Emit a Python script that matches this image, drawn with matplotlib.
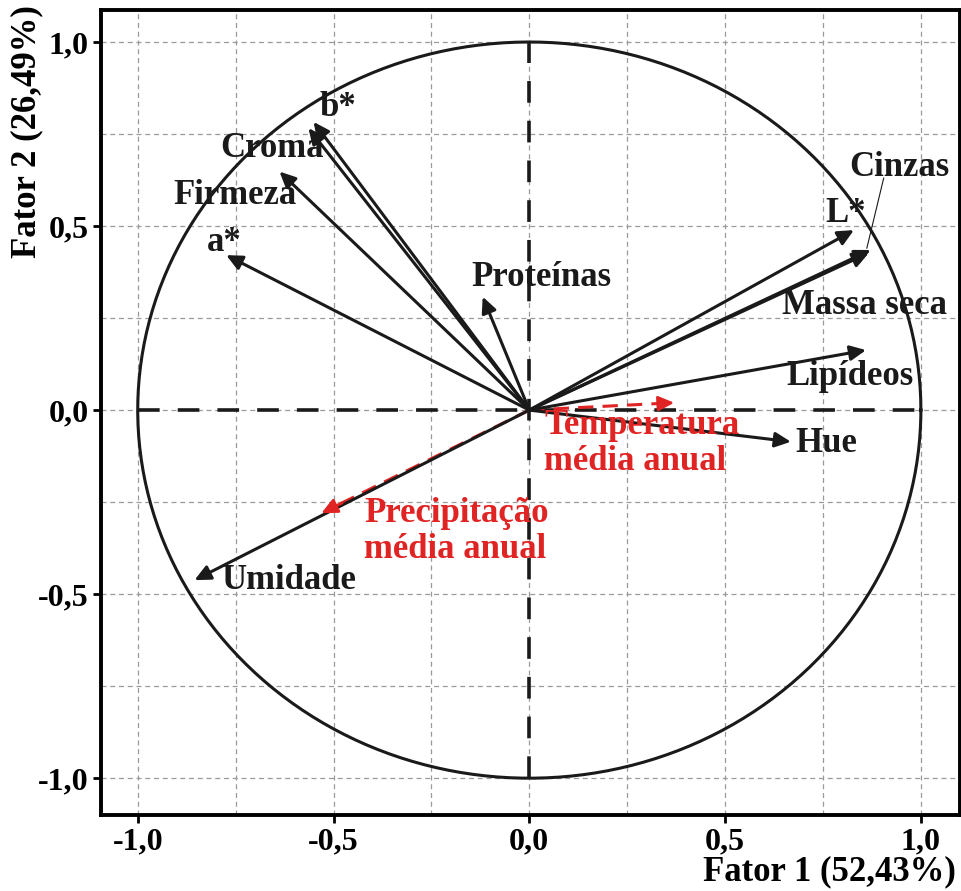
import matplotlib.pyplot as plt
import numpy as np

plt.rcParams['font.family'] = 'Liberation Serif'
plt.rcParams['font.weight'] = 'bold'

# variaveis (cargas no fator 1 e fator 2)
variaveis = ['b*', 'Croma', 'Firmeza', 'a*', 'Proteínas', 'L*', 'Cinzas',
             'Massa seca', 'Lipídeos', 'Hue', 'Umidade']
f1 = [-0.551, -0.564, -0.638, -0.774, -0.119, 0.829, 0.872, 0.867, 0.860, 0.668, -0.855]
f2 = [0.783, 0.766, 0.648, 0.421, 0.308, 0.489, 0.435, 0.427, 0.163, -0.086, -0.462]
# posicao dos rotulos
lab_x = [-0.536, -0.788, -0.908, -0.824, -0.148, 0.755, 0.816, 0.645, 0.656, 0.679, -0.786]
lab_y = [0.821, 0.712, 0.584, 0.454, 0.361, 0.535, 0.658, 0.285, 0.090, -0.092, -0.462]

# variaveis climaticas (suplementares)
clima = ['Temperatura\nmédia anual', 'Precipitação\nmédia anual']
c1 = [0.370, -0.531]
c2 = [0.020, -0.280]
clima_x = [0.038, -0.421]
clima_y = [-0.092, -0.330]

vermelho = '#e02424'

fig = plt.figure(figsize=(9.61, 8.91), dpi=100)
ax = fig.add_axes([0.105, 0.0853, 0.894, 0.9035])

# grade
ax.set_xticks(np.arange(-1, 1.01, 0.5))
ax.set_yticks(np.arange(-1, 1.01, 0.5))
ax.set_xticks(np.arange(-1, 1.01, 0.25), minor=True)
ax.set_yticks(np.arange(-1, 1.01, 0.25), minor=True)
ax.grid(True, which='both', color='#9a9a9a', linestyle=(0, (4, 3)), linewidth=0.9)
ax.set_axisbelow(True)

# circulo de correlacao
t = np.linspace(0, 2 * np.pi, 400)
ax.plot(np.cos(t), np.sin(t), color='#1a1a1a', lw=2.2)
ax.plot([-1, 1], [0, 0], color='#1a1a1a', lw=2.6, linestyle=(0, (6, 5)))
ax.plot([0, 0], [-1, 1], color='#1a1a1a', lw=2.6, linestyle=(0, (6, 5)))

seta = '-|>,head_length=0.95,head_width=0.45'
for nome, x, y, lx, ly in zip(variaveis, f1, f2, lab_x, lab_y):
    ax.annotate('', xy=(x, y), xytext=(0, 0),
                arrowprops=dict(arrowstyle=seta, color='#1a1a1a', lw=2.2,
                                shrinkA=0, shrinkB=0))
    ax.text(lx, ly, nome, fontsize=25, ha='left', va='center', color='#1a1a1a')

# linha de ligacao do rotulo Cinzas
ax.plot([0.905, 0.862], [0.630, 0.440], color='#1a1a1a', lw=0.8)

for nome, x, y, lx, ly in zip(clima, c1, c2, clima_x, clima_y):
    ax.plot([0, x * 0.93], [0, y * 0.93], color=vermelho, lw=2.2, linestyle=(0, (5, 3)))
    ax.annotate('', xy=(x, y), xytext=(x * 0.9, y * 0.9),
                arrowprops=dict(arrowstyle=seta, color=vermelho, lw=2.0,
                                shrinkA=0, shrinkB=0))
    ax.text(lx, ly, nome, fontsize=25, ha='left', va='center', color=vermelho,
            linespacing=1.12)

ax.set_xlim(-1.094, 1.10)
ax.set_ylim(-1.10, 1.087)
ax.set_xticklabels(['-1,0', '-0,5', '0,0', '0,5', '1,0'])
ax.set_yticklabels(['-1,0', '-0,5', '0,0', '0,5', '1,0'])
ax.tick_params(which='major', direction='out', length=6, width=2, labelsize=23, pad=3)
ax.tick_params(which='minor', length=0)
for s in ax.spines.values():
    s.set_linewidth(2.8)

ax.set_xlabel('Fator 1 (52,43%)', fontsize=25, fontweight='bold', ha='right', va='center')
ax.xaxis.set_label_coords(0.995, -0.071)
ax.set_ylabel('Fator 2 (26,49%)', fontsize=25, fontweight='bold', va='center')
ax.yaxis.set_label_coords(-0.086, 0.849)

plt.savefig('out.png', dpi=100)
